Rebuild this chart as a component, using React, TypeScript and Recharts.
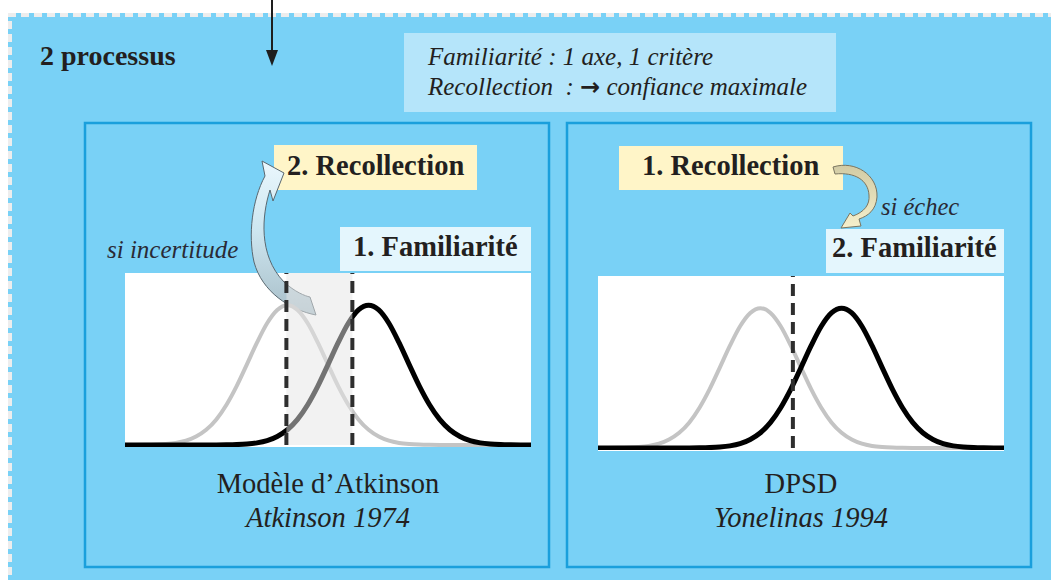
import React from "react";
import { LineChart, Line, XAxis, YAxis, ReferenceLine, ReferenceArea } from "recharts";

// memory-strength axis (arbitrary units) and the two familiarity densities
const strength = [0, 1, 2, 3, 4, 5, 6, 7, 8, 9, 10, 11, 12, 13, 14, 15, 16, 17, 18, 19, 20, 21, 22, 23, 24, 25, 26, 27, 28, 29, 30, 31, 32, 33, 34, 35, 36, 37, 38, 39, 40];
const lureDensity = [0, 0, 0.1, 0.3, 0.7, 1.5, 3.1, 6.1, 10.9, 18.3, 28.8, 42.1, 57.5, 73.2, 87.1, 96.6, 100, 96.6, 87.1, 73.2, 57.5, 42.1, 28.8, 18.3, 10.9, 6.1, 3.1, 1.5, 0.7, 0.3, 0.1, 0, 0, 0, 0, 0, 0, 0, 0, 0, 0];
const targetDensity = [0, 0, 0, 0, 0, 0, 0, 0, 0, 0, 0.1, 0.3, 0.7, 1.5, 3.1, 6.1, 10.9, 18.3, 28.8, 42.1, 57.5, 73.2, 87.1, 96.6, 100, 96.6, 87.1, 73.2, 57.5, 42.1, 28.8, 18.3, 10.9, 6.1, 3.1, 1.5, 0.7, 0.3, 0.1, 0, 0];

// decision criteria
const atkinsonCriteria = [15.9, 22.4];
const dpsdCriterion = [19.2];

const chartData = strength.map((x, i) => ({ x, lure: lureDensity[i], target: targetDensity[i] }));

const SERIF = "'Liberation Serif', 'Times New Roman', serif";
const BG = "#79D1F6";
const PANEL_BORDER = "#1A9FDC";
const TEXT = "#231F20";

function Curves({ criteria, shaded }: { criteria: number[]; shaded: boolean }) {
  return (
    <LineChart width={406} height={174} data={chartData} margin={{ top: 0, right: 0, bottom: 2, left: 0 }}>
      <XAxis dataKey="x" type="number" domain={[0, 40]} hide />
      <YAxis type="number" domain={[0, 123]} hide />
      <Line type="monotone" dataKey="lure" stroke="#C4C4C4" strokeWidth={4} dot={false} activeDot={false} isAnimationActive={false} />
      <Line type="monotone" dataKey="target" stroke="#000000" strokeWidth={5} dot={false} activeDot={false} isAnimationActive={false} />
      {shaded && (
        <ReferenceArea x1={criteria[0]} x2={criteria[1]} fill="#E6E6E6" fillOpacity={0.5} stroke="none" zIndex={450} />
      )}
      {criteria.map((c) => (
        <ReferenceLine key={c} x={c} stroke="#2E2E2E" strokeWidth={4} strokeDasharray="12 7" zIndex={500} />
      ))}
    </LineChart>
  );
}

export default function App() {
  return (
    <div style={{ position: "absolute", left: 0, top: 0, width: 1051, height: 580, background: "#fff", overflow: "hidden", fontFamily: SERIF }}>
      {/* background layer */}
      <svg width={1051} height={580} style={{ position: "absolute", left: 0, top: 0 }}>
        <rect x={8} y={13} width={1043} height={567} fill={BG} />
        <line x1={8} y1={15} x2={1051} y2={15} stroke="#EDEDED" strokeWidth={4} strokeDasharray="8 5" />
        <line x1={10} y1={17} x2={10} y2={580} stroke="#EDEDED" strokeWidth={4} strokeDasharray="8 5" strokeDashoffset={-4} />
        {/* top arrow */}
        <line x1={272} y1={0} x2={272} y2={54} stroke="#1E1E1E" strokeWidth={2} />
        <polygon points="266,50 278,50 272,66" fill="#1E1E1E" />
        {/* note box */}
        <rect x={404} y={33} width={432} height={79} fill="#B5E5FA" />
        {/* panels */}
        <rect x={85} y={123} width={464} height={444} fill="none" stroke={PANEL_BORDER} strokeWidth={2.5} />
        <rect x={567} y={123} width={464} height={444} fill="none" stroke={PANEL_BORDER} strokeWidth={2.5} />
        {/* plot backgrounds */}
        <rect x={125} y={273} width={406} height={174} fill="#fff" />
        <rect x={598} y={276} width={406} height={175} fill="#fff" />
        {/* label boxes */}
        <rect x={274} y={145} width={203} height={45} fill="#FFF5C8" />
        <rect x={340} y={227} width={191} height={44} fill="#E4F6FD" />
        <rect x={619} y={146} width={224} height={44} fill="#FFF5C8" />
        <rect x={826} y={229} width={178} height={44} fill="#E4F6FD" />
      </svg>

      {/* curved arrows */}
      <svg width={1051} height={580} style={{ position: "absolute", left: 0, top: 0 }}>
        <defs>
          <linearGradient id="blueArrow" x1="0" y1="0" x2="0" y2="1">
            <stop offset="0" stopColor="#EAF7FD" />
            <stop offset="0.45" stopColor="#CDE6F0" />
            <stop offset="1" stopColor="#A8BEC8" />
          </linearGradient>
          <linearGradient id="beigeArrow" x1="0" y1="0" x2="0" y2="1">
            <stop offset="0" stopColor="#D2CBA4" />
            <stop offset="1" stopColor="#F6F0CC" />
          </linearGradient>
        </defs>
        <path
          d="M 262 161 L 284 173 L 273 201 L 270 190 C 262 215, 258 255, 284 282 C 295 292, 305 296, 310 297 L 316 315 C 290 310, 262 292, 254 262 C 248 235, 252 200, 265 176 Z"
          fill="url(#blueArrow)"
          stroke="#5A6870"
          strokeWidth={1}
        />
        <path
          d="M 833 167 C 855 160, 878 175, 877 197 C 876 210, 868 216, 859 219 L 861 226 L 841 228 L 850 213 L 853 216 C 864 212, 870 205, 869 195 C 868 180, 855 172, 835 174 Z"
          fill="url(#beigeArrow)"
          stroke="#7A7560"
          strokeWidth={1}
        />
      </svg>

      <div style={{ position: "absolute", left: 125, top: 273 }}>
        <Curves criteria={atkinsonCriteria} shaded={true} />
      </div>
      <div style={{ position: "absolute", left: 598, top: 276 }}>
        <Curves criteria={dpsdCriterion} shaded={false} />
      </div>

      {/* texts */}
      <svg width={1051} height={580} style={{ position: "absolute", left: 0, top: 0, pointerEvents: "none" }}>
        <g fontFamily={SERIF} fill={TEXT}>
          <text x={40} y={65} fontSize={28} fontWeight="bold">2 processus</text>
          <text x={428} y={65} fontSize={25} fontStyle="italic">Familiarité : 1 axe, 1 critère</text>
          <text x={428} y={95} fontSize={25} fontStyle="italic" style={{ whiteSpace: "pre" }}>
            Recollection  : <tspan fontFamily="'DejaVu Sans', sans-serif" fontStyle="normal" fontWeight="bold" fontSize={24}>→</tspan> confiance maximale
          </text>

          <text x={287} y={175} fontSize={28.5} fontWeight="bold">2. Recollection</text>
          <text x={353} y={256} fontSize={28.5} fontWeight="bold">1. Familiarité</text>
          <text x={107} y={258} fontSize={25} fontStyle="italic" fill="#2A2A35">si incertitude</text>

          <text x={642} y={175} fontSize={28.5} fontWeight="bold">1. Recollection</text>
          <text x={881} y={215} fontSize={24.5} fontStyle="italic" fill="#2A2A35">si échec</text>
          <text x={832} y={257} fontSize={28.5} fontWeight="bold">2. Familiarité</text>

          <text x={328} y={493} fontSize={28.5} textAnchor="middle">Modèle d’Atkinson</text>
          <text x={328} y={527} fontSize={28.5} fontStyle="italic" textAnchor="middle">Atkinson 1974</text>
          <text x={801} y={493} fontSize={28.5} textAnchor="middle">DPSD</text>
          <text x={801} y={527} fontSize={28.5} fontStyle="italic" textAnchor="middle">Yonelinas 1994</text>
        </g>
      </svg>
    </div>
  );
}
